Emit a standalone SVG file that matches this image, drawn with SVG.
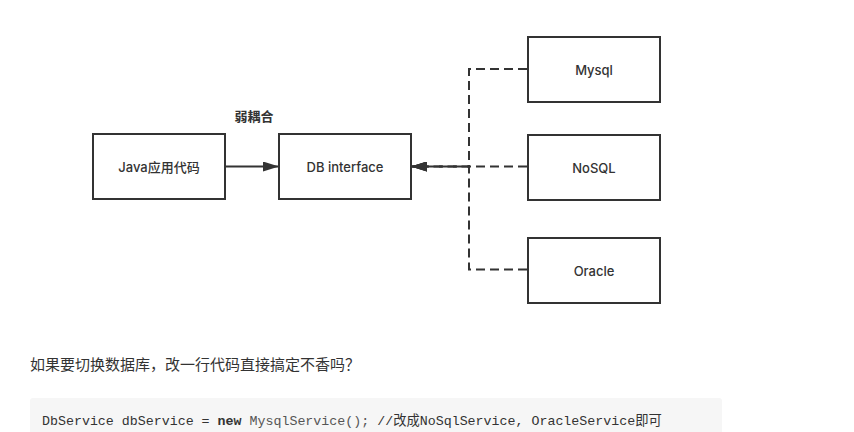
<svg xmlns="http://www.w3.org/2000/svg" width="854" height="432" viewBox="0 0 854 432">
<style>
.box{fill:#fff;stroke:#333;stroke-width:2}
.lbl{font-family:Inter,"Noto Sans CJK SC",sans-serif;font-size:13px;font-weight:500;fill:#333;text-anchor:middle;dominant-baseline:central}
.dash{fill:none;stroke:#333;stroke-width:2;stroke-dasharray:9 5}
.solid{fill:none;stroke:#333;stroke-width:2}
.code{font-family:"Liberation Mono","Noto Sans CJK SC",monospace;font-size:13.3px;fill:#333}
</style>
<defs>
<marker id="arr" viewBox="0 0 16 10" refX="16" refY="5" markerWidth="16" markerHeight="10" markerUnits="userSpaceOnUse" orient="auto">
<path d="M0,0 L16,5 L0,10 Z" fill="#333"/>
</marker>
</defs>
<rect width="854" height="432" fill="#fff"/>
<g id="connectors">
<line class="solid" x1="225" y1="166.5" x2="279" y2="166.5" marker-end="url(#arr)"/>
<path class="dash" d="M527,69 H469 V166.5 H411" marker-end="url(#arr)"/>
<path class="dash" d="M527,166.5 H411" marker-end="url(#arr)"/>
<path class="dash" d="M527,269.5 H469 V166.5 H411" marker-end="url(#arr)"/>
</g>
<g id="label-weak">
<text x="254" y="116" class="lbl" style="font-weight:bold">弱耦合</text>
</g>
<g id="java">
<rect class="box" x="93" y="134" width="132" height="65"/>
<text x="159" y="167" class="lbl">Java应用代码</text>
</g>
<g id="dbinterface">
<rect class="box" x="279" y="134" width="132" height="65"/>
<text x="345" y="167" class="lbl">DB interface</text>
</g>
<g id="mysql">
<rect class="box" x="528" y="37" width="132" height="65"/>
<text x="594" y="70" class="lbl">Mysql</text>
</g>
<g id="nosql">
<rect class="box" x="528" y="135" width="132" height="65"/>
<text x="594" y="168" class="lbl">NoSQL</text>
</g>
<g id="oracle">
<rect class="box" x="528" y="238" width="132" height="65"/>
<text x="594" y="271" class="lbl">Oracle</text>
</g>
<text x="30" y="370" style="font-family:'Noto Sans CJK SC',sans-serif;font-size:15px;fill:#333">如果要切换数据库，改一行代码直接搞定不香吗？</text>
<rect x="30" y="398" width="692" height="40" rx="3" fill="#f6f6f6"/>
<text x="42" y="425" class="code">DbService dbService = <tspan font-weight="bold">new</tspan> <tspan fill="#555">MysqlService();</tspan> //改成NoSqlService, OracleService即可</text>
</svg>
